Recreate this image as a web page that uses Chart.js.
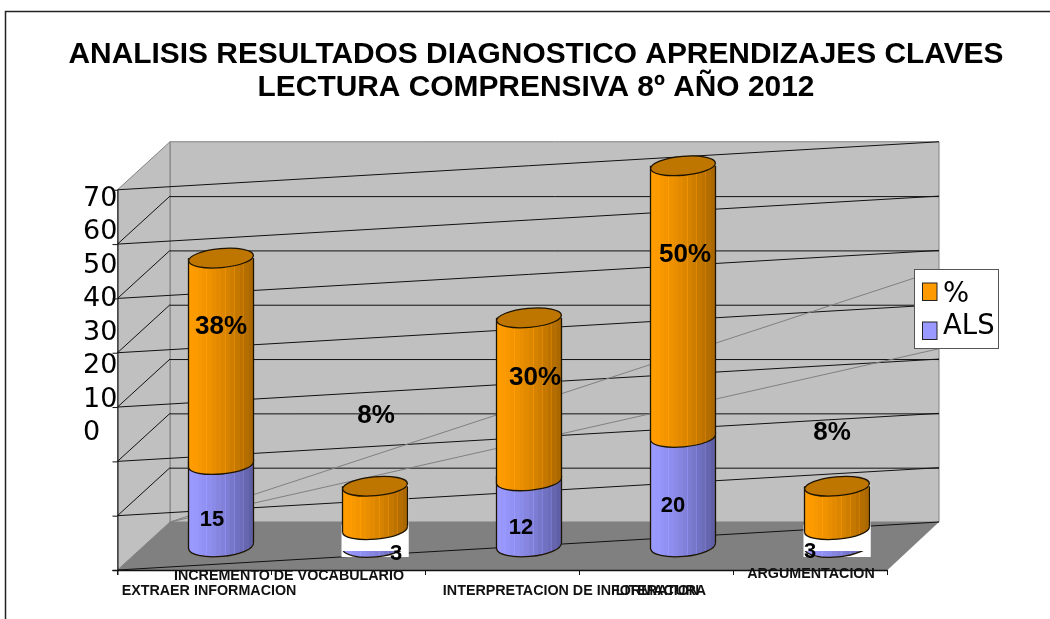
<!DOCTYPE html>
<html><head><meta charset="utf-8">
<style>html,body{margin:0;padding:0;background:#fff;overflow:hidden}canvas{display:block}</style>
<script src="https://cdn.jsdelivr.net/npm/chart.js@4"></script></head>
<body><div style="position:relative;width:1050px;height:619px"><canvas id="c"></canvas></div>
<script>
const titleLines = ['ANALISIS RESULTADOS DIAGNOSTICO APRENDIZAJES CLAVES', 'LECTURA COMPRENSIVA 8º AÑO 2012'];
const categories = ['EXTRAER INFORMACION', 'INCREMENTO DE VOCABULARIO', 'INTERPRETACION DE INFORMACION', 'LITERATURA', 'ARGUMENTACION'];
const alsValues = [15, 3, 12, 20, 3];
const pctValues = [38, 8, 30, 50, 8];
const pctLabels = ['38%', '8%', '30%', '50%', '8%'];
const yTicks = [0, 10, 20, 30, 40, 50, 60, 70];
const guideLineEnds = [46.4, 31.9];

// layout and style constants
const DX = 26.5, DY = 24, RY = 9.5, TILT = -0.09;
const pctLabelShift = [[0,-34],[1,-92],[6,-22],[2,-47],[-5,-75]];
const alsLabelShift = [[-9,15],[21,16],[-8,15],[-10,14],[-27,14]];
const catLabelShift = [[14.5,21],[-59.5,6],[68.5,21],[4.5,21],[0.5,4]];
const FONT = '"Liberation Sans", Arial, sans-serif';
const ORANGE = [[255,156,0],[166,100,0]];
const BLUE = [[153,153,255],[92,92,160]];

function facetGradient(chart, cx, w, a, b) {
  const g = chart.ctx.createLinearGradient(cx - w/2, 0, cx + w/2, 0);
  const n = 14;
  const lerp = t => 'rgb(' + a.map((v,i) => Math.round(v + (b[i]-v)*t)).join(',') + ')';
  for (let i = 0; i < n; i++) {
    const t = i / n, t2 = (i + 1) / n;
    const k = Math.pow((t + t2) / 2, 1.5);
    g.addColorStop(t, lerp(k));
    g.addColorStop(t2 - 0.012, lerp(k));
    if (i % 2 === 1 && i < n - 1) { g.addColorStop(t2 - 0.012, lerp(Math.max(0, k - 0.2))); g.addColorStop(t2, lerp(Math.max(0, k - 0.2))); }
    else { g.addColorStop(t2, lerp(k)); }
  }
  return g;
}
function fillFor(ctx, cols) {
  const chart = ctx.chart, s = chart.scales.x;
  if (!s || !chart.chartArea || ctx.dataIndex === undefined) return 'rgb(' + cols[0].join(',') + ')';
  const w = s.getPixelForValue(1) - s.getPixelForValue(0);
  return facetGradient(chart, s.getPixelForValue(ctx.dataIndex), w * 0.422, cols[0], cols[1]);
}
function line(ctx, x1, y1, x2, y2) { ctx.beginPath(); ctx.moveTo(x1, y1); ctx.lineTo(x2, y2); ctx.stroke(); }
// Lower half of a tilted ellipse, joined up to a level above it on both sides.
function lowerPath(ctx, cx, cy, rx, ry, upTo) {
  const dx = rx * Math.cos(TILT), dy = rx * Math.sin(TILT);
  ctx.beginPath();
  ctx.moveTo(cx + dx, cy + dy);
  ctx.ellipse(cx, cy, rx, ry, TILT, 0, Math.PI);
  ctx.lineTo(cx - dx, upTo);
  ctx.lineTo(cx + dx, upTo);
  ctx.closePath();
}
function lowerStroke(ctx, cx, cy, rx, ry) {
  ctx.beginPath();
  ctx.ellipse(cx, cy, rx, ry, TILT, 0, Math.PI);
  ctx.stroke();
}
function whiteBoxTop(chart, i) { return chart.getDatasetMeta(1).data[i].y - 1; }

const scene = {
  id: 'scene',
  beforeDraw(chart) {
    // let the two-line title use its full width, centred on the picture's title axis
    const t = chart.titleBlock;
    t.left = 22; t.right = 1050; t.width = 1028;
  },
  beforeDatasetsDraw(chart) {
    const { ctx, chartArea: a, scales: { y } } = chart;
    const fl = a.left - DX, fr = a.right - DX, bl = a.left + DX - 0.5, br = a.right + DX - 1.5;
    const yFront = v => y.getPixelForValue(v) + DY, yBack = v => y.getPixelForValue(v) - DY;
    ctx.save();
    ctx.strokeStyle = '#222'; ctx.lineWidth = 1.5;
    ctx.beginPath(); ctx.moveTo(5.5, 619); ctx.lineTo(5.5, 11.5); ctx.lineTo(1050, 11.5); ctx.stroke();
    ctx.fillStyle = '#c0c0c0'; ctx.strokeStyle = '#808080'; ctx.lineWidth = 1;
    ctx.beginPath(); ctx.rect(bl, yBack(70), br - bl, yBack(0) - yBack(70)); ctx.fill(); ctx.stroke();
    ctx.beginPath(); ctx.moveTo(fl, yFront(70)); ctx.lineTo(bl, yBack(70)); ctx.lineTo(bl, yBack(0)); ctx.lineTo(fl, yFront(0)); ctx.closePath(); ctx.fill(); ctx.stroke();
    ctx.fillStyle = '#808080';
    ctx.beginPath(); ctx.moveTo(fl, yFront(0)); ctx.lineTo(bl, yBack(0)); ctx.lineTo(br, yBack(0)); ctx.lineTo(fr, yFront(0)); ctx.closePath(); ctx.fill();
    ctx.strokeStyle = '#111'; ctx.lineWidth = 1;
    yTicks.forEach(v => {
      if (v > 0 && v < 70) line(ctx, fl, yFront(v), bl, yBack(v));
      if (v > 0 && v < 70) line(ctx, bl, yBack(v) + 0.5, br, yBack(v) + 0.5);
      line(ctx, fl, yFront(v), br, yBack(v));
    });
    ctx.strokeStyle = '#808080';
    guideLineEnds.forEach(v => line(ctx, bl, yBack(0), br, yBack(v)));
    ctx.strokeStyle = '#111'; ctx.lineWidth = 1;
    line(ctx, fl + 0.5, yFront(70), fl + 0.5, yFront(0) + 5);
    yTicks.forEach(v => line(ctx, fl - 5, yFront(v) + 0.5, fl, yFront(v) + 0.5));
    ctx.lineWidth = 1.5;
    line(ctx, fl - 5, yFront(0) + 0.5, fr, yFront(0) + 0.5);
    ctx.lineWidth = 1;
    for (let i = 0; i <= categories.length; i++) {
      const px = fl + (fr - fl) * i / categories.length;
      line(ctx, px, yFront(0), px, yFront(0) + 5);
    }
    // white label boxes behind the two small columns
    ctx.fillStyle = '#fff';
    chart.getDatasetMeta(0).data.forEach((bar, i) => {
      if (alsValues[i] < 5) ctx.fillRect(bar.x - bar.width/2, whiteBoxTop(chart, i), bar.width + 1, bar.base + 11 - whiteBoxTop(chart, i));
    });
    ctx.restore();
  },
  afterDatasetsDraw(chart) {
    const { ctx, scales: { y } } = chart;
    const als = chart.getDatasetMeta(0).data, pct = chart.getDatasetMeta(1).data;
    ctx.save();
    ctx.lineWidth = 1.3; ctx.strokeStyle = '#1c1400';
    als.forEach((bar, i) => {
      const w = bar.width, rx = w / 2, cx = bar.x, top = pct[i];
      const blue = fillFor({ chart, dataIndex: i }, BLUE), orange = fillFor({ chart, dataIndex: i }, ORANGE);
      if (alsValues[i] < 5) {
        // the white label box covers most of the blue part here
        ctx.fillStyle = '#fff';
        ctx.fillRect(cx - rx - 1, bar.y - 5, w + 2, bar.base + 11 - bar.y + 5);
        ctx.save();
        ctx.beginPath(); ctx.rect(cx - rx - 1, bar.base + 5, w + 2, RY);
        ctx.clip();
        ctx.fillStyle = blue;
        lowerPath(ctx, cx, bar.base, rx, RY + 1.5, bar.base); ctx.fill();
        lowerStroke(ctx, cx, bar.base, rx, RY + 1.5);
        ctx.restore();
      } else {
        ctx.fillStyle = blue;
        lowerPath(ctx, cx, bar.base, rx, RY + 1, bar.base - 5); ctx.fill();
        lowerStroke(ctx, cx, bar.base, rx, RY + 1);
        ctx.fillRect(cx - rx + 1, bar.y - 5, w - 2, 7);
        line(ctx, cx - rx, bar.y - 5, cx - rx, bar.base + 3);
        line(ctx, cx + rx, bar.y - 5, cx + rx, bar.base - 3);
      }
      ctx.fillStyle = orange;
      lowerPath(ctx, cx, bar.y, rx, RY, bar.y - 7); ctx.fill();
      lowerStroke(ctx, cx, bar.y, rx, RY);
      line(ctx, cx - rx, top.y, cx - rx, bar.y + 3);
      line(ctx, cx + rx, top.y, cx + rx, bar.y - 3);
      ctx.beginPath(); ctx.ellipse(cx, top.y, rx, RY, TILT, 0, Math.PI * 2);
      ctx.fillStyle = '#bf7600'; ctx.fill(); ctx.stroke();
    });
    // value labels
    ctx.fillStyle = '#000'; ctx.textAlign = 'center'; ctx.textBaseline = 'middle';
    const midY = b => (b.y + b.base) / 2;
    ctx.font = 'bold 26px ' + FONT;
    pct.forEach((b, i) => ctx.fillText(pctLabels[i], b.x + pctLabelShift[i][0], midY(b) + pctLabelShift[i][1]));
    ctx.font = 'bold 22px ' + FONT;
    als.forEach((b, i) => ctx.fillText(String(alsValues[i]), b.x + alsLabelShift[i][0], midY(b) + alsLabelShift[i][1]));
    // category labels
    ctx.font = 'bold 14.3px ' + FONT; ctx.fillStyle = '#111';
    const xs = chart.scales.x, front = y.getPixelForValue(0) + DY;
    categories.forEach((c, i) => ctx.fillText(c, xs.getPixelForValue(i) - DX + catLabelShift[i][0], front + catLabelShift[i][1]));
    // legend
    ctx.textAlign = 'left';
    ctx.fillStyle = '#fff'; ctx.strokeStyle = '#555'; ctx.lineWidth = 1;
    ctx.fillRect(914.5, 269.5, 84, 79); ctx.strokeRect(914.5, 269.5, 84, 79);
    [['%', 'rgb(255,153,0)', 283, 295], ['ALS', 'rgb(153,153,255)', 322, 327]].forEach(e => {
      ctx.fillStyle = e[1]; ctx.strokeStyle = '#222';
      ctx.fillRect(922.5, e[2], 14.5, 17.5); ctx.strokeRect(922.5, e[2], 14.5, 17.5);
      ctx.fillStyle = '#000'; ctx.font = '27.5px "DejaVu Sans", sans-serif';
      ctx.fillText(e[0], 943, e[3]);
    });
    ctx.restore();
  }
};

new Chart(document.getElementById('c'), {
  type: 'bar',
  data: {
    labels: categories,
    datasets: [
      { label: 'ALS', data: alsValues, stack: 's', borderWidth: 0, backgroundColor: c => fillFor(c, BLUE) },
      { label: '%', data: pctValues, stack: 's', borderWidth: 0, backgroundColor: c => fillFor(c, ORANGE) }
    ]
  },
  plugins: [scene],
  options: {
    responsive: true, maintainAspectRatio: false, animation: false,
    layout: { padding: { left: 83, right: 61, top: 0, bottom: 73 } },
    barPercentage: 0.422, categoryPercentage: 1,
    plugins: {
      legend: { display: false }, tooltip: { enabled: false },
      title: { display: true, text: titleLines, color: '#000', font: { family: FONT, size: 29.9, weight: 'bold', lineHeight: 1.1 }, padding: { top: 38, bottom: 62 } }
    },
    scales: {
      x: { display: false, stacked: true, offset: true, grid: { display: false } },
      y: { display: false, stacked: true, min: 0, max: 70 },
      yLabels: { position: 'left', min: -33.8, max: 79.9, border: { display: false }, grid: { display: false },
        afterFit(s) { s.width = 61; },
        ticks: { stepSize: 10, autoSkip: false, crossAlign: 'far', padding: 0, color: '#000', font: { family: '"DejaVu Sans", sans-serif', size: 27 },
          callback: v => yTicks.includes(v) ? String(v) : '' } },
      yRight: { position: 'right', min: 0, max: 1, border: { display: false }, grid: { display: false }, ticks: { display: false },
        afterFit(s) { s.width = 75; } }
    }
  }
});
</script></body></html>
